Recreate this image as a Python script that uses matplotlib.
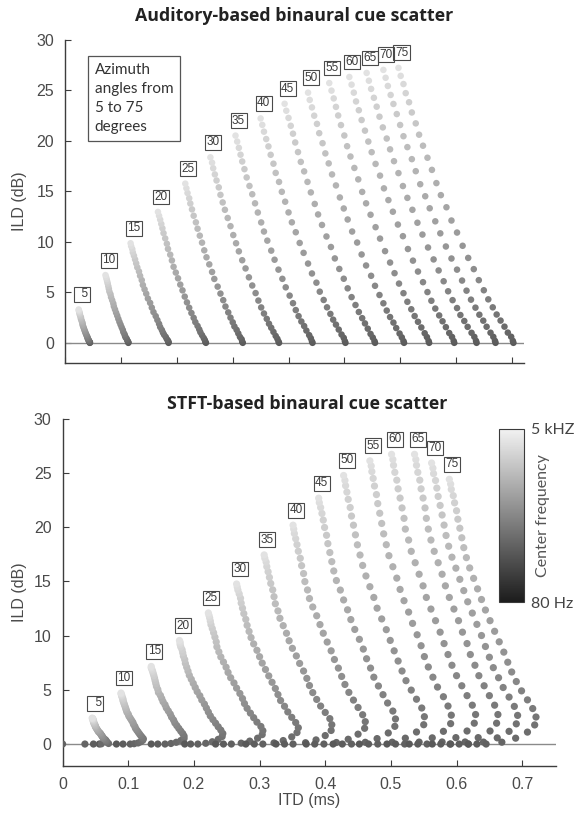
import matplotlib
matplotlib.use("Agg")
import matplotlib.pyplot as plt
from matplotlib.colors import LinearSegmentedColormap, Normalize
from matplotlib.cm import ScalarMappable

plt.rcParams["font.family"] = ["Liberation Sans", "DejaVu Sans"]

# ---------------- data ----------------
azimuth_labels = ["  5", "10", "15", "20", "25", "30", "35", "40",
                  "45", "50", "55", "60", "65", "70", "75"]

# Auditory-based panel: one list per azimuth, channels from 5 kHz down to 80 Hz
aud_itd = [
    [.024, .024, .025, .025, .026, .026, .027, .028, .028, .029, .030, .031, .031, .032, .033, .034, .035, .036, .037, .038, .039, .040, .040, .041, .042, .042, .043, .044, .044, .044],
    [.072, .073, .074, .075, .076, .077, .078, .079, .081, .082, .084, .086, .087, .089, .091, .093, .095, .097, .099, .101, .103, .104, .106, .107, .108, .110, .111, .112, .113, .113],
    [.117, .118, .120, .121, .123, .125, .127, .129, .132, .134, .137, .139, .142, .145, .148, .152, .155, .158, .162, .165, .168, .170, .173, .175, .177, .180, .182, .184, .185, .185],
    [.166, .168, .170, .172, .174, .176, .179, .182, .184, .188, .191, .194, .198, .202, .206, .210, .214, .218, .222, .226, .230, .233, .237, .240, .242, .245, .248, .250, .251, .252],
    [.215, .217, .219, .222, .224, .227, .230, .234, .237, .241, .245, .249, .253, .258, .263, .267, .273, .278, .283, .287, .292, .296, .300, .303, .307, .310, .313, .316, .317, .318],
    [.260, .263, .265, .268, .271, .275, .278, .282, .286, .291, .296, .301, .306, .311, .317, .323, .329, .335, .341, .346, .351, .356, .361, .365, .369, .373, .377, .380, .382, .383],
    [.305, .308, .311, .314, .317, .321, .325, .330, .335, .340, .345, .351, .356, .362, .369, .375, .382, .389, .395, .402, .408, .413, .418, .423, .428, .432, .437, .440, .442, .443],
    [.350, .353, .356, .360, .364, .368, .373, .377, .383, .388, .394, .400, .406, .413, .420, .427, .435, .442, .450, .456, .463, .469, .475, .480, .485, .490, .495, .499, .501, .502],
    [.393, .396, .400, .404, .408, .412, .417, .422, .428, .434, .440, .447, .453, .460, .468, .476, .483, .491, .499, .506, .513, .520, .526, .532, .537, .542, .547, .551, .554, .555],
    [.435, .438, .442, .446, .451, .455, .461, .466, .472, .478, .485, .492, .499, .506, .514, .523, .531, .539, .548, .555, .563, .570, .576, .582, .588, .593, .599, .603, .606, .607],
    [.473, .477, .481, .485, .489, .494, .500, .505, .511, .518, .525, .532, .539, .547, .556, .564, .573, .582, .590, .598, .606, .613, .620, .626, .632, .638, .644, .648, .651, .652],
    [.509, .513, .517, .521, .526, .531, .537, .543, .549, .556, .564, .571, .579, .587, .596, .605, .614, .623, .632, .641, .649, .656, .663, .670, .676, .682, .688, .693, .696, .697],
    [.540, .544, .548, .553, .558, .563, .569, .576, .582, .589, .597, .605, .613, .622, .631, .640, .650, .660, .669, .678, .686, .694, .702, .708, .715, .721, .728, .733, .736, .737],
    [.570, .574, .578, .583, .588, .594, .600, .606, .613, .621, .628, .636, .645, .653, .663, .672, .682, .692, .702, .711, .719, .727, .735, .742, .749, .755, .762, .767, .770, .771],
    [.597, .601, .606, .610, .616, .621, .628, .634, .641, .649, .657, .665, .673, .683, .692, .702, .712, .722, .732, .741, .750, .758, .766, .773, .780, .787, .793, .799, .802, .803],
]
aud_ild = [
    [3.3, 3.2, 3.11, 3.0, 2.89, 2.77, 2.63, 2.5, 2.37, 2.22, 2.08, 1.92, 1.77, 1.63, 1.47, 1.32, 1.16, 1.02, 0.88, 0.75, 0.63, 0.52, 0.43, 0.34, 0.27, 0.19, 0.12, 0.07, 0.02, 0.0],
    [6.7, 6.51, 6.3, 6.08, 5.86, 5.61, 5.35, 5.07, 4.8, 4.51, 4.21, 3.89, 3.6, 3.3, 2.98, 2.69, 2.37, 2.07, 1.8, 1.53, 1.28, 1.06, 0.86, 0.69, 0.54, 0.4, 0.25, 0.15, 0.05, 0.0],
    [9.85, 9.56, 9.27, 8.94, 8.62, 8.25, 7.86, 7.46, 7.06, 6.63, 6.2, 5.72, 5.29, 4.86, 4.38, 3.95, 3.48, 3.04, 2.64, 2.25, 1.88, 1.56, 1.27, 1.01, 0.8, 0.58, 0.36, 0.22, 0.07, 0.0],
    [12.95, 12.57, 12.19, 11.76, 11.33, 10.85, 10.33, 9.8, 9.29, 8.72, 8.15, 7.52, 6.95, 6.38, 5.76, 5.19, 4.57, 4.0, 3.47, 2.95, 2.47, 2.05, 1.67, 1.33, 1.05, 0.76, 0.48, 0.28, 0.09, 0.0],
    [15.75, 15.29, 14.82, 14.3, 13.78, 13.2, 12.57, 11.92, 11.29, 10.6, 9.91, 9.15, 8.46, 7.76, 7.01, 6.32, 5.56, 4.87, 4.22, 3.59, 3.01, 2.49, 2.03, 1.62, 1.28, 0.93, 0.58, 0.35, 0.11, 0.0],
    [18.35, 17.82, 17.27, 16.66, 16.06, 15.38, 14.64, 13.89, 13.16, 12.35, 11.54, 10.66, 9.85, 9.05, 8.17, 7.36, 6.48, 5.67, 4.92, 4.18, 3.5, 2.9, 2.37, 1.89, 1.49, 1.08, 0.68, 0.4, 0.13, 0.0],
    [20.5, 19.91, 19.29, 18.61, 17.94, 17.18, 16.36, 15.52, 14.7, 13.8, 12.89, 11.91, 11.01, 10.11, 9.12, 8.22, 7.24, 6.33, 5.49, 4.67, 3.92, 3.24, 2.64, 2.11, 1.66, 1.21, 0.76, 0.45, 0.14, 0.0],
    [22.2, 21.56, 20.89, 20.16, 19.43, 18.6, 17.72, 16.81, 15.92, 14.94, 13.96, 12.9, 11.92, 10.94, 9.88, 8.9, 7.84, 6.86, 5.95, 5.06, 4.24, 3.51, 2.86, 2.29, 1.8, 1.31, 0.82, 0.49, 0.16, 0.0],
    [23.65, 22.96, 22.25, 21.47, 20.69, 19.82, 18.87, 17.9, 16.96, 15.92, 14.88, 13.74, 12.7, 11.66, 10.52, 9.48, 8.35, 7.31, 6.34, 5.39, 4.52, 3.74, 3.05, 2.44, 1.92, 1.4, 0.88, 0.52, 0.17, 0.0],
    [24.75, 24.03, 23.29, 22.47, 21.66, 20.74, 19.75, 18.74, 17.75, 16.66, 15.57, 14.38, 13.29, 12.2, 11.01, 9.92, 8.74, 7.65, 6.63, 5.64, 4.73, 3.91, 3.19, 2.55, 2.0, 1.46, 0.92, 0.54, 0.17, 0.0],
    [25.7, 24.95, 24.18, 23.34, 22.49, 21.54, 20.51, 19.45, 18.43, 17.3, 16.17, 14.93, 13.8, 12.67, 11.44, 10.31, 9.07, 7.94, 6.89, 5.86, 4.91, 4.06, 3.32, 2.65, 2.08, 1.52, 0.95, 0.57, 0.18, 0.0],
    [26.3, 25.54, 24.75, 23.88, 23.01, 22.04, 20.99, 19.91, 18.86, 17.7, 16.54, 15.28, 14.12, 12.97, 11.7, 10.55, 9.28, 8.13, 7.05, 6.0, 5.02, 4.16, 3.39, 2.71, 2.13, 1.55, 0.97, 0.58, 0.18, 0.0],
    [26.7, 25.93, 25.12, 24.24, 23.36, 22.37, 21.31, 20.21, 19.14, 17.97, 16.79, 15.51, 14.34, 13.16, 11.88, 10.71, 9.43, 8.25, 7.16, 6.09, 5.1, 4.22, 3.44, 2.75, 2.16, 1.58, 0.99, 0.59, 0.19, 0.0],
    [27.0, 26.22, 25.41, 24.52, 23.63, 22.63, 21.55, 20.44, 19.36, 18.17, 16.98, 15.69, 14.5, 13.31, 12.02, 10.83, 9.53, 8.34, 7.24, 6.16, 5.16, 4.27, 3.48, 2.78, 2.19, 1.59, 1.0, 0.59, 0.19, 0.0],
    [27.2, 26.41, 25.6, 24.7, 23.8, 22.79, 21.71, 20.59, 19.5, 18.31, 17.11, 15.8, 14.61, 13.41, 12.1, 10.91, 9.6, 8.4, 7.29, 6.2, 5.2, 4.3, 3.51, 2.8, 2.2, 1.6, 1.01, 0.6, 0.19, 0.0],
]

# STFT-based panel: one list per azimuth, channels from 5 kHz down to 80 Hz
stft_itd = [
    [.045, .046, .046, .046, .047, .047, .047, .048, .048, .049, .050, .050, .051, .052, .053, .054, .055, .057, .058, .059, .060, .061, .062, .063, .065, .066, .067, .067, .070, .059, .034, 0.0, .047, .056],
    [.089, .089, .090, .090, .091, .092, .092, .093, .094, .095, .096, .097, .098, .100, .101, .103, .105, .107, .108, .110, .111, .113, .115, .117, .119, .121, .123, .122, .119, .115, .109, .103, .092, .082],
    [.135, .135, .136, .137, .138, .139, .140, .141, .142, .143, .145, .146, .149, .151, .153, .156, .158, .161, .164, .166, .169, .171, .174, .177, .180, .183, .185, .185, .180, .173, .165, .156, .145, .135],
    [.178, .179, .179, .180, .182, .183, .184, .186, .187, .189, .191, .193, .196, .199, .202, .205, .209, .212, .216, .219, .222, .225, .229, .233, .237, .241, .244, .243, .237, .228, .218, .206, .195, .186],
    [.222, .223, .224, .225, .226, .228, .230, .232, .234, .235, .238, .241, .245, .249, .252, .256, .261, .265, .270, .274, .277, .281, .286, .291, .296, .302, .305, .304, .297, .285, .272, .257, .245, .233],
    [.265, .266, .267, .269, .271, .272, .274, .276, .279, .281, .284, .287, .291, .296, .300, .304, .309, .314, .319, .324, .328, .332, .338, .343, .349, .355, .359, .357, .349, .336, .322, .305, .292, .279],
    [.307, .308, .310, .311, .313, .315, .317, .320, .322, .324, .328, .331, .336, .341, .345, .350, .356, .361, .367, .372, .376, .381, .387, .393, .400, .407, .410, .409, .400, .386, .370, .351, .338, .325],
    [.351, .352, .353, .355, .357, .359, .362, .364, .367, .369, .373, .376, .381, .387, .392, .397, .403, .409, .414, .420, .425, .430, .436, .443, .450, .457, .461, .460, .450, .435, .417, .398, .384, .371],
    [.390, .391, .393, .395, .397, .399, .402, .404, .407, .410, .413, .417, .423, .428, .434, .439, .445, .452, .458, .463, .469, .474, .481, .488, .495, .503, .507, .506, .496, .479, .461, .440, .426, .412],
    [.428, .430, .431, .433, .435, .438, .440, .443, .446, .449, .453, .457, .462, .468, .474, .479, .486, .493, .499, .505, .511, .517, .523, .531, .539, .547, .551, .550, .539, .522, .502, .480, .466, .452],
    [.468, .470, .471, .473, .475, .478, .480, .483, .486, .489, .493, .497, .503, .509, .514, .520, .527, .533, .540, .546, .551, .557, .564, .571, .580, .587, .592, .591, .580, .563, .543, .521, .507, .494],
    [.501, .503, .504, .506, .509, .511, .514, .517, .520, .522, .527, .531, .537, .543, .549, .554, .561, .568, .575, .581, .587, .593, .600, .608, .616, .624, .629, .627, .616, .599, .578, .555, .541, .528],
    [.536, .538, .539, .541, .544, .546, .549, .552, .554, .557, .561, .566, .572, .578, .583, .589, .596, .603, .609, .616, .621, .628, .634, .642, .650, .658, .663, .661, .651, .633, .613, .590, .576, .563],
    [.562, .564, .565, .568, .570, .572, .575, .578, .581, .584, .588, .593, .599, .605, .611, .617, .624, .631, .638, .644, .650, .656, .664, .671, .680, .688, .693, .691, .680, .662, .641, .618, .604, .591],
    [.589, .591, .592, .595, .597, .600, .602, .605, .608, .611, .615, .620, .626, .632, .638, .644, .651, .658, .665, .672, .678, .684, .691, .699, .708, .716, .721, .719, .708, .690, .669, .645, .631, .618],
]
stft_ild = [
    [2.39, 2.35, 2.30, 2.24, 2.18, 2.11, 2.03, 1.95, 1.86, 1.77, 1.68, 1.59, 1.50, 1.40, 1.30, 1.21, 1.11, 1.02, 0.92, 0.83, 0.74, 0.65, 0.56, 0.48, 0.40, 0.32, 0.24, 0.17, 0.05, 0.02, 0.0, 0.0, 0.0, 0.0],
    [4.7, 4.62, 4.52, 4.41, 4.28, 4.14, 3.99, 3.83, 3.66, 3.49, 3.31, 3.13, 2.94, 2.75, 2.57, 2.38, 2.19, 2.0, 1.81, 1.63, 1.45, 1.28, 1.11, 0.94, 0.78, 0.63, 0.48, 0.34, 0.21, 0.1, 0.03, 0.0, 0.0, 0.0],
    [7.15, 7.02, 6.88, 6.71, 6.51, 6.3, 6.07, 5.83, 5.57, 5.31, 5.03, 4.75, 4.48, 4.19, 3.9, 3.62, 3.33, 3.05, 2.76, 2.48, 2.21, 1.94, 1.69, 1.44, 1.19, 0.96, 0.73, 0.51, 0.32, 0.16, 0.05, 0.0, 0.0, 0.0],
    [9.54, 9.37, 9.18, 8.95, 8.69, 8.4, 8.1, 7.78, 7.43, 7.08, 6.72, 6.34, 5.97, 5.59, 5.21, 4.83, 4.45, 4.06, 3.68, 3.31, 2.95, 2.59, 2.25, 1.92, 1.59, 1.28, 0.97, 0.69, 0.43, 0.21, 0.07, 0.0, 0.0, 0.0],
    [12.08, 11.86, 11.62, 11.33, 11.0, 10.64, 10.26, 9.85, 9.41, 8.96, 8.5, 8.03, 7.56, 7.08, 6.6, 6.11, 5.63, 5.15, 4.66, 4.19, 3.73, 3.29, 2.85, 2.43, 2.02, 1.62, 1.23, 0.87, 0.54, 0.27, 0.08, 0.0, 0.0, 0.0],
    [14.75, 14.48, 14.19, 13.84, 13.44, 12.99, 12.52, 12.02, 11.49, 10.94, 10.38, 9.81, 9.23, 8.64, 8.05, 7.46, 6.87, 6.28, 5.69, 5.12, 4.56, 4.01, 3.48, 2.96, 2.46, 1.98, 1.5, 1.06, 0.66, 0.32, 0.1, 0.0, 0.0, 0.0],
    [17.43, 17.12, 16.77, 16.35, 15.88, 15.36, 14.8, 14.21, 13.58, 12.93, 12.27, 11.59, 10.91, 10.21, 9.52, 8.82, 8.12, 7.43, 6.73, 6.05, 5.39, 4.74, 4.11, 3.5, 2.91, 2.34, 1.78, 1.25, 0.78, 0.38, 0.12, 0.0, 0.0, 0.0],
    [20.17, 19.81, 19.4, 18.92, 18.38, 17.77, 17.12, 16.44, 15.71, 14.97, 14.2, 13.41, 12.63, 11.82, 11.01, 10.21, 9.4, 8.59, 7.79, 7.0, 6.23, 5.49, 4.76, 4.05, 3.37, 2.7, 2.06, 1.45, 0.91, 0.44, 0.14, 0.0, 0.0, 0.0],
    [22.66, 22.25, 21.8, 21.25, 20.64, 19.96, 19.24, 18.47, 17.65, 16.81, 15.95, 15.07, 14.19, 13.28, 12.37, 11.47, 10.56, 9.65, 8.75, 7.86, 7.0, 6.16, 5.35, 4.55, 3.78, 3.04, 2.31, 1.63, 1.02, 0.5, 0.16, 0.0, 0.0, 0.0],
    [24.75, 24.3, 23.81, 23.22, 22.55, 21.8, 21.01, 20.17, 19.28, 18.36, 17.42, 16.46, 15.49, 14.5, 13.51, 12.52, 11.53, 10.54, 9.55, 8.59, 7.65, 6.73, 5.84, 4.97, 4.13, 3.32, 2.52, 1.78, 1.11, 0.54, 0.17, 0.0, 0.0, 0.0],
    [26.1, 25.63, 25.11, 24.48, 23.78, 22.99, 22.16, 21.27, 20.33, 19.37, 18.37, 17.36, 16.34, 15.29, 14.25, 13.21, 12.16, 11.12, 10.07, 9.06, 8.06, 7.1, 6.16, 5.25, 4.36, 3.5, 2.66, 1.88, 1.17, 0.57, 0.18, 0.0, 0.0, 0.0],
    [26.7, 26.22, 25.69, 25.04, 24.32, 23.52, 22.67, 21.76, 20.8, 19.81, 18.8, 17.76, 16.71, 15.65, 14.58, 13.51, 12.44, 11.37, 10.31, 9.26, 8.25, 7.26, 6.3, 5.37, 4.46, 3.58, 2.72, 1.92, 1.2, 0.59, 0.19, 0.0, 0.0, 0.0],
    [26.7, 26.22, 25.69, 25.04, 24.32, 23.52, 22.67, 21.76, 20.8, 19.81, 18.8, 17.76, 16.71, 15.65, 14.58, 13.51, 12.44, 11.37, 10.31, 9.26, 8.25, 7.26, 6.3, 5.37, 4.46, 3.58, 2.72, 1.92, 1.2, 0.59, 0.19, 0.0, 0.0, 0.0],
    [25.9, 25.43, 24.92, 24.29, 23.59, 22.82, 21.99, 21.11, 20.18, 19.22, 18.23, 17.22, 16.21, 15.18, 14.14, 13.11, 12.07, 11.03, 10.0, 8.99, 8.0, 7.04, 6.11, 5.21, 4.33, 3.47, 2.64, 1.86, 1.17, 0.57, 0.18, 0.0, 0.0, 0.0],
    [24.4, 23.96, 23.47, 22.89, 22.23, 21.5, 20.72, 19.89, 19.01, 18.1, 17.18, 16.23, 15.27, 14.3, 13.32, 12.35, 11.37, 10.39, 9.42, 8.47, 7.54, 6.64, 5.76, 4.9, 4.07, 3.27, 2.49, 1.76, 1.1, 0.54, 0.17, 0.0, 0.0, 0.0],
]

y_ticks = [0, 5, 10, 15, 20, 25, 30]
x_ticks_aud = [0, 0.1, 0.2, 0.3, 0.4, 0.5, 0.6, 0.7, 0.8]
x_ticks_stft = [0, 0.1, 0.2, 0.3, 0.4, 0.5, 0.6, 0.7]
x_ticklabels_stft = ["0", "0.1", "0.2", "0.3", "0.4", "0.5", "0.6", "0.7"]
colorbar_ticklabels = ["80 Hz", "5 kHZ"]
note_text = "Azimuth\nangles from\n5 to 75\ndegrees"

# ---------------- style ----------------
TEXT_FONT = "Lato"
TITLE_FONT = "Open Sans"
AX_COL = "#3d3d3d"
LAB_COL = "#4a4a4a"

dot_cmap = LinearSegmentedColormap.from_list("dots", ["#595959", "#e2e2e2"])
bar_cmap = LinearSegmentedColormap.from_list("bar", ["#1c1c1c", "#f2f2f2"])

fig = plt.figure(figsize=(5.78, 8.16), dpi=100)
ax1 = fig.add_axes([0.1130, 0.5551, 0.7931, 0.3964])
ax2 = fig.add_axes([0.1083, 0.0616, 0.8531, 0.4255])


def style_axes(ax, xlim, xticks):
    ax.set_xlim(*xlim)
    ax.set_ylim(-2, 30)
    ax.set_xticks(xticks)
    ax.set_yticks(y_ticks)
    for side in ("top", "right"):
        ax.spines[side].set_visible(False)
    for side in ("left", "bottom"):
        ax.spines[side].set_color(AX_COL)
        ax.spines[side].set_linewidth(1.0)
    ax.tick_params(direction="in", length=4, width=0.8, color=AX_COL,
                   labelsize=11.5, labelcolor=LAB_COL, pad=8)
    ax.axhline(0, color="#8a8a8a", lw=1.0, zorder=2)
    ax.set_ylabel("ILD (dB)", fontsize=11.5, color=LAB_COL)


def draw_panel(ax, itd_sets, ild_sets, size):
    for itd, ild, lab in zip(itd_sets, ild_sets, azimuth_labels):
        n = len(itd)
        level = [1.0 - k / (n - 1) for k in range(n)]
        ax.scatter(itd[::-1], ild[::-1], c=level[::-1], cmap=dot_cmap,
                   vmin=0, vmax=1, s=size, linewidths=0, zorder=3)
        ax.annotate(lab, xy=(itd[0], ild[0]), xytext=(2.2, 10.8),
                    textcoords="offset points", ha="center", va="center",
                    fontsize=8.5, color="#3a3a3a",
                    bbox=dict(boxstyle="square,pad=0.12", fc="none",
                              ec="#4a4a4a", lw=0.8), zorder=4)


style_axes(ax1, (0, 0.8215), x_ticks_aud)
ax1.tick_params(labelbottom=False)
ax1.yaxis.set_label_coords(-0.0836, 0.5)
draw_panel(ax1, aud_itd, aud_ild, 22)
ax1.text(0.0644, 0.928, note_text, transform=ax1.transAxes, ha="left", va="top",
         fontsize=11, family=TEXT_FONT, color="#333333", linespacing=1.45,
         bbox=dict(boxstyle="square,pad=0.45", fc="white", ec="#555555", lw=0.9),
         zorder=5)

style_axes(ax2, (0, 0.751), x_ticks_stft)
ax2.set_xticklabels(x_ticklabels_stft)
ax2.yaxis.set_label_coords(-0.0722, 0.5)
ax2.set_xlabel("ITD (ms)", fontsize=11.5, color=LAB_COL)
ax2.xaxis.set_label_coords(0.5, -0.0786)
draw_panel(ax2, stft_itd, stft_ild, 27)

fig.text(0.5095, 0.9804, "Auditory-based binaural cue scatter", ha="center",
         va="center", fontsize=12.8, fontweight="bold", family=TITLE_FONT,
         color="#222222")
fig.text(0.531, 0.5049, "STFT-based binaural cue scatter", ha="center",
         va="center", fontsize=12.8, fontweight="bold", family=TITLE_FONT,
         color="#222222")

# colour bar
cax = fig.add_axes([499 / 578, 214 / 816, 25 / 578, 173 / 816])
sm = ScalarMappable(norm=Normalize(0, 1), cmap=bar_cmap)
cb = fig.colorbar(sm, cax=cax, ticks=[0, 1])
cb.ax.set_yticklabels(colorbar_ticklabels)
cb.ax.tick_params(length=0, pad=5, labelsize=11.5, labelcolor="#444444")
for lab in cb.ax.get_yticklabels():
    lab.set_family(TEXT_FONT)
cb.outline.set_edgecolor("#3a3a3a")
cb.outline.set_linewidth(0.8)
cax.text(1.78, 0.5, "Center frequency", rotation=90, transform=cax.transAxes,
         ha="center", va="center", fontsize=11.5, color="#555555",
         family=TEXT_FONT)

fig.savefig("out.png", dpi=100)
